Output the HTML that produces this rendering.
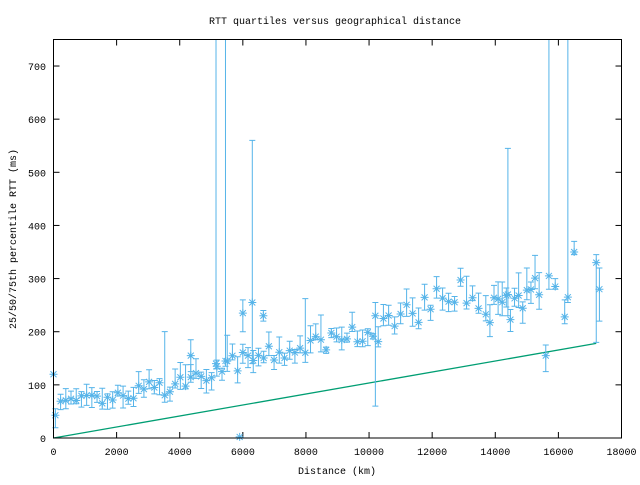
<!DOCTYPE html>
<html><head><meta charset="utf-8"><style>
html,body{margin:0;padding:0;background:#fff}
svg text{font-family:"Liberation Mono",monospace;font-size:10px;fill:#000}
</style></head><body>
<svg id="s" width="640" height="480" xmlns="http://www.w3.org/2000/svg">
<rect width="640" height="480" fill="#fff"/>
<text x="335" y="24" text-anchor="middle">RTT quartiles versus geographical distance</text>
<text x="337" y="474" text-anchor="middle">Distance (km)</text>
<text transform="translate(16,239) rotate(-90)" text-anchor="middle">25/50/75th percentile RTT (ms)</text>
<g id="ax"></g>
<g id="data" stroke="#56b4e9" fill="none" stroke-width="1"></g>
<rect x="53.5" y="39.5" width="568" height="398.5" fill="none" stroke="#000"/>
</svg>
<script>
var NS="http://www.w3.org/2000/svg";
function px(x){return 53.5+x*568/18000}
function py(v){return 438-v*0.5314}
function el(p,t,a,txt){var e=document.createElementNS(NS,t);for(var k in a)e.setAttribute(k,a[k]);if(txt!=null)e.textContent=txt;p.appendChild(e);return e}
var ax=document.getElementById("ax"),d=document.getElementById("data");
for(var v=0;v<=700;v+=100){var y=py(v);
 el(ax,"line",{x1:53.5,x2:59.5,y1:y,y2:y,stroke:"#000"});
 el(ax,"line",{x1:615.5,x2:621.5,y1:y,y2:y,stroke:"#000"});
 el(ax,"text",{x:46,y:y+4,"text-anchor":"end"},v);}
for(var x=0;x<=18000;x+=2000){var X=px(x);
 el(ax,"line",{x1:X,x2:X,y1:438,y2:432,stroke:"#000"});
 el(ax,"line",{x1:X,x2:X,y1:39.5,y2:45.5,stroke:"#000"});
 el(ax,"text",{x:X,y:455,"text-anchor":"middle"},x);}
var g="M"+px(0)+","+py(0)+" L"+px(17200)+","+py(178);
el(d,"path",{d:g,stroke:"#009e73","stroke-width":1.3});
var seed=7;function r(){seed=(seed*16807)%2147483647;return seed/2147483647}
function trend(x){var pts=[[0,60],[2000,70],[3000,90],[4000,100],[5000,130],[6000,145],[8000,170],[10000,200],[11000,220],[12000,260],[13000,280],[14000,245],[15000,265],[16000,290],[17000,320]];
 for(var i=1;i<pts.length;i++)if(x<=pts[i][0]){var a=pts[i-1],b=pts[i];return a[1]+(b[1]-a[1])*(x-a[0])/(b[0]-a[0])}return 300}
function star(x,m){var X=px(x),Y=py(m);
 el(d,"path",{d:"M"+(X-4)+","+Y+"h8M"+X+","+(Y-4)+"v8M"+(X-3)+","+(Y-3)+"l6,6M"+(X-3)+","+(Y+3)+"l6,-6"});}
function bar(x,lo,m,hi){var X=px(x);var yl=py(lo),yh=Math.max(py(hi),39.5);
 el(d,"path",{d:"M"+X+","+yl+"V"+yh+"M"+(X-3)+","+yl+"h6"+(hi<750?"M"+(X-3)+","+yh+"h6":"")});star(x,m);}
for(var x=60;x<=13600;x+=(x<10500?165:190)){var m=trend(x)+(r()-0.5)*(x<10000?35:60);
 var lo=m-5-r()*20,hi=m+5+r()*25; if(r()<0.15)hi=m+40+r()*80; bar(x,lo,m,hi);}
for(var x=13700;x<=15400;x+=130){var m=trend(x)+(r()-0.5)*70;bar(x,m-10-r()*20,m,m+10+r()*40);}
bar(5150,130,140,900);bar(5450,135,145,900);bar(15700,280,305,900);bar(16300,255,265,900);
bar(6300,140,255,560);bar(14400,230,270,545);bar(6000,200,235,260);bar(6650,220,230,240);
bar(15600,125,155,175);bar(16500,345,350,370);bar(17200,180,330,345);bar(17300,220,280,320);
bar(15900,280,285,300);bar(16200,215,228,260);bar(10200,60,230,255);bar(4350,125,155,185);
star(0,120);star(5900,2);
</script>
</body></html>
